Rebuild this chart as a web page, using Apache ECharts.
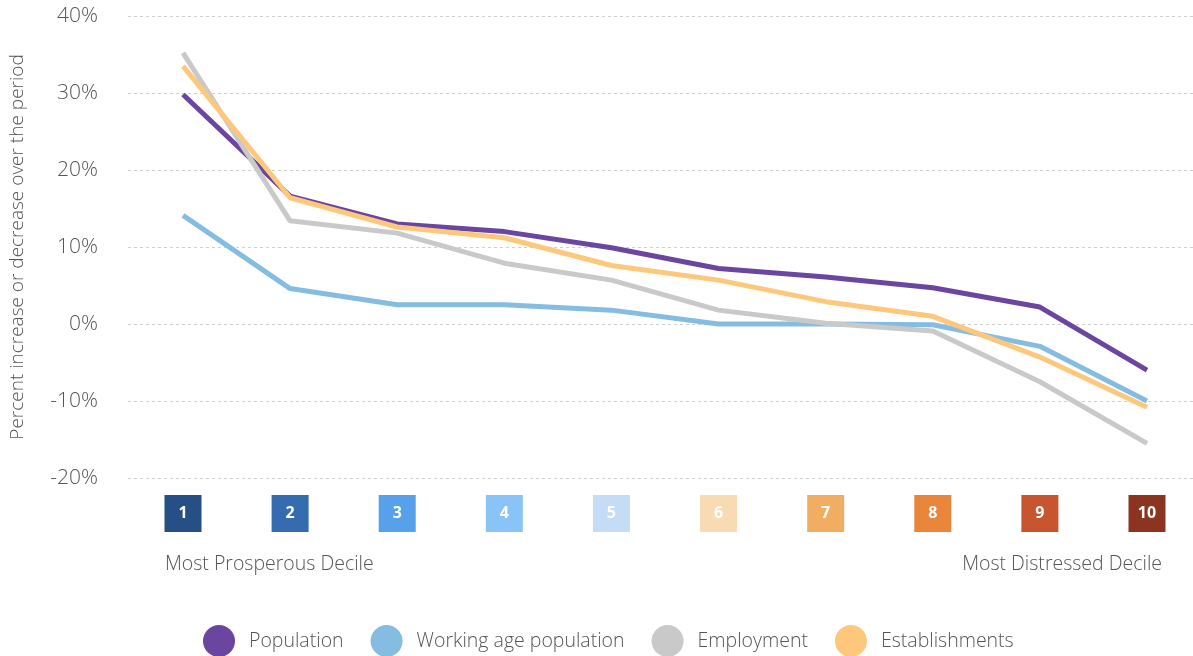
<!DOCTYPE html>
<html>
<head>
<meta charset="utf-8">
<script src="https://cdn.jsdelivr.net/npm/echarts@6/dist/echarts.min.js"></script>
<style>
  html, body { margin: 0; padding: 0; background: #fff; }
  #chart { width: 1193px; height: 656px; }
</style>
</head>
<body>
<div id="chart"></div>
<script>
// Deciles (1 = most prosperous, 10 = most distressed)
const deciles = ['1', '2', '3', '4', '5', '6', '7', '8', '9', '10'];
const decileColors = ['#264F86', '#356CB0', '#57A0EA', '#8AC4F7', '#C5DCF7',
                      '#F8DBB2', '#F1AE62', '#EA863C', '#C65530', '#8B3520'];

// Percent change over the period
const population   = [29.8, 16.6, 13.0, 12.0, 9.9, 7.2, 6.1, 4.7, 2.2, -6.0];
const workingAge   = [14.1, 4.6, 2.5, 2.5, 1.8, 0.0, 0.0, -0.1, -2.9, -10.0];
const employment   = [35.2, 13.4, 11.8, 7.9, 5.7, 1.8, 0.1, -0.9, -7.5, -15.5];
const establishments = [33.5, 16.4, 12.6, 11.2, 7.6, 5.7, 2.9, 1.0, -4.3, -10.8];

const seriesNames = ['Population', 'Working age population', 'Employment', 'Establishments'];
const seriesColors = ['#6B46A0', '#85BDE2', '#C9C9C9', '#FDC87C'];
const seriesData = [population, workingAge, employment, establishments];

const FONT = 'Open Sans';
const TEXT = '#555';

const chart = echarts.init(document.getElementById('chart'));

// rich styles for the numbered decile boxes
const rich = {};
decileColors.forEach((c, i) => {
  rich['b' + i] = {
    backgroundColor: c,
    color: '#fff',
    width: 37,
    height: 37,
    lineHeight: 37,
    align: 'center',
    fontSize: 16,
    fontWeight: 'bold',
    fontFamily: FONT,
  };
});

chart.setOption({
  animation: false,
  textStyle: { fontFamily: FONT },
  grid: [
    // data grid
    { left: 183, right: 46, top: 16, bottom: 178, outerBoundsMode: 'none' },
    // wider grid just for the dotted gridlines + tick labels
    { left: 128, right: 0, top: 16, bottom: 178, outerBoundsMode: 'none' },
  ],
  xAxis: [
    {
      type: 'category',
      gridIndex: 0,
      data: deciles,
      boundaryGap: false,
      axisLine: { show: false },
      axisTick: { show: false },
      axisLabel: {
        margin: 17,
        formatter: (v, i) => `{b${i}|${v}}`,
        rich,
      },
    },
    { type: 'value', gridIndex: 1, min: 0, max: 1, show: false },
  ],
  yAxis: [
    {
      type: 'value',
      gridIndex: 0,
      min: -20,
      max: 40,
      interval: 10,
      axisLine: { show: false },
      axisTick: { show: false },
      axisLabel: { show: false },
      splitLine: { show: false },
      name: 'Percent increase or decrease over the period',
      nameLocation: 'middle',
      nameGap: 156,
      nameTextStyle: { color: TEXT, fontSize: 19, fontWeight: 300, fontFamily: FONT },
    },
    {
      type: 'value',
      gridIndex: 1,
      min: -20,
      max: 40,
      interval: 10,
      axisLine: { show: false },
      axisTick: { show: false },
      axisLabel: {
        margin: 30,
        color: TEXT,
        fontSize: 21,
        fontWeight: 300,
        formatter: v => v + '%',
      },
      splitLine: { lineStyle: { color: '#CFCFCF', type: [3, 3], width: 1 } },
    },
  ],
  legend: {
    left: 203,
    top: 625,
    padding: 0,
    icon: 'circle',
    itemWidth: 32,
    itemHeight: 32,
    itemGap: 27,
    data: seriesNames,
    textStyle: { color: TEXT, fontSize: 19.5, fontWeight: 300, padding: [0, 0, 0, 9] },
  },
  graphic: [
    {
      type: 'text',
      left: 165,
      top: 554,
      style: { text: 'Most Prosperous Decile', fill: TEXT, fontSize: 19.5, fontWeight: 300, fontFamily: FONT },
    },
    {
      type: 'text',
      right: 31,
      top: 554,
      style: { text: 'Most Distressed Decile', fill: TEXT, fontSize: 19.5, fontWeight: 300, fontFamily: FONT },
    },
  ],
  series: seriesNames.map((name, i) => ({
    name,
    type: 'line',
    xAxisIndex: 0,
    yAxisIndex: 0,
    data: seriesData[i],
    symbol: 'none',
    itemStyle: { color: seriesColors[i] },
    lineStyle: { color: seriesColors[i], width: 5 },
  })),
});
</script>
</body>
</html>
